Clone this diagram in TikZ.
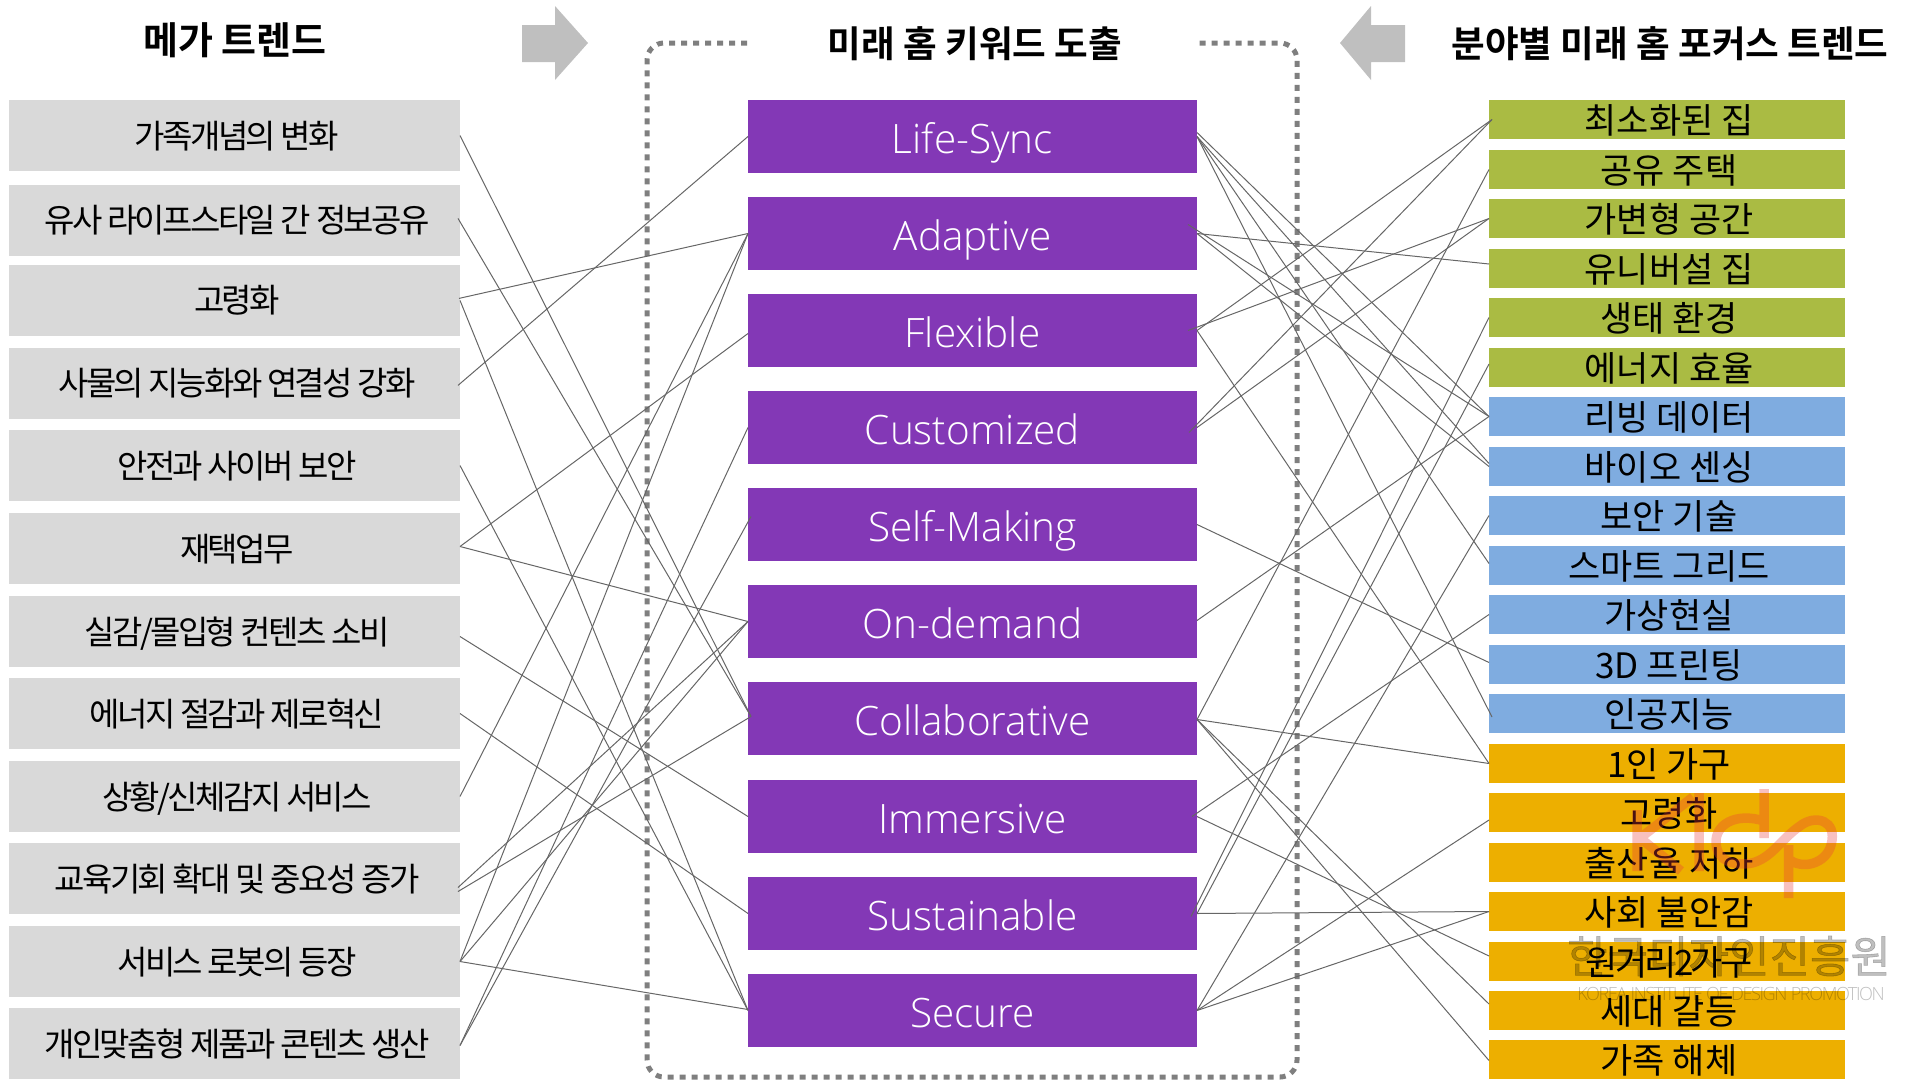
\documentclass[tikz,border=0pt]{standalone}
\usepackage{fontspec}
\setmainfont{Noto Sans CJK KR}
\newfontfamily\lfnt{Noto Sans CJK KR}[LetterSpace=-8]
\newfontfamily\rfnt{Noto Sans CJK KR}[WordSpace=2.5]
\newfontfamily\rtfnt{Noto Sans CJK KR}[LetterSpace=-8]
\newfontfamily\wfnt{Noto Sans CJK KR}[FakeBold=1.2]
\newfontfamily\tfnt{Noto Sans CJK KR}[BoldFont={* Bold}]
\newfontfamily\pfnt{Open Sans Light}
\newfontfamily\efnt{Open Sans Light}[LetterSpace=-8]
\definecolor{grayfill}{HTML}{D9D9D9}
\definecolor{purplefill}{HTML}{8338B6}
\definecolor{greenfill}{HTML}{AABB43}
\definecolor{bluefill}{HTML}{7FACE0}
\definecolor{amberfill}{HTML}{EDAF00}
\definecolor{arrowgray}{HTML}{BFBFBF}
\definecolor{framegray}{HTML}{7F7F7F}
\definecolor{linkgray}{HTML}{666666}
\definecolor{logored}{HTML}{EA3B3B}
\tikzset{
  boxbase/.style={rectangle,inner sep=0pt,outer sep=0pt,text=black},
  lbx/.style={boxbase,fill=grayfill,minimum width=451pt,minimum height=71pt,font=\lfnt\fontsize{33}{33}\selectfont,text height=29pt,text depth=4pt,execute at begin node={\hspace*{5pt}}},
  pbx/.style={boxbase,fill=purplefill,text=white,minimum width=449pt,minimum height=73pt,font=\pfnt\fontsize{40.5}{40.5}\selectfont,text height=34.5pt,text depth=0pt},
  rbx/.style={boxbase,minimum width=356pt,minimum height=39pt,font=\rfnt\fontsize{35}{35}\selectfont,text height=32.5pt,text depth=4.2pt,execute at begin node={\hspace*{4pt}}},
  gbx/.style={rbx,fill=greenfill},
  bbx/.style={rbx,fill=bluefill},
  abx/.style={rbx,fill=amberfill},
  title/.style={inner sep=0pt,font=\tfnt\bfseries\fontsize{36.6}{36.6}\selectfont,text height=33.5pt,text depth=4.4pt},
  conn/.style={draw=linkgray,line width=1pt},
  frameline/.style={draw=framegray,line width=5pt,dash pattern=on 6pt off 6pt,rounded corners=17pt},
}
\newcommand\lnk[4]{\draw[conn] ([shift={(#2)}]#1) -- ([shift={(#4)}]#3);}
\begin{document}
\begin{tikzpicture}[x=1pt,y=-1pt]
\useasboundingbox (0,0) rectangle (1908,1079);
% titles
\node[title,font=\tfnt\bfseries\fontsize{38}{38}\selectfont] (t1) at (235,40) {메가 트렌드};
\node[title] (t2) at (975,43) {미래 홈 키워드 도출};
\node[title] (t3) at (1670,43) {분야별 미래 홈 포커스 트렌드};
% block arrows
\fill[arrowgray] (522,25) -- (555,25) -- (555,6) -- (588,43) -- (555,80) -- (555,62) -- (522,62) -- cycle;
\fill[arrowgray] (1405,25) -- (1371,25) -- (1371,6) -- (1340,43) -- (1371,80) -- (1371,62) -- (1405,62) -- cycle;
% frame
\draw[frameline] (747,43) -- (647,43) -- (647,1077) -- (1297,1077) -- (1297,43) -- (1198,43);
% left column
\node[lbx] (l1) at (234.5,135.5) {가족개념의 변화};
\node[lbx] (l2) at (234.5,220.4) {유사 라이프스타일 간 정보공유};
\node[lbx] (l3) at (234.5,300.4) {고령화};
\node[lbx] (l4) at (234.5,383.4) {사물의 지능화와 연결성 강화};
\node[lbx] (l5) at (234.5,465.5) {안전과 사이버 보안};
\node[lbx] (l6) at (234.5,548.5) {재택업무};
\node[lbx] (l7) at (234.5,631.5) {실감/몰입형 컨텐츠 소비};
\node[lbx] (l8) at (234.5,713.5) {에너지 절감과 제로혁신};
\node[lbx] (l9) at (234.5,796.5) {상황/신체감지 서비스};
\node[lbx] (l10) at (234.5,878.5) {교육기회 확대 및 중요성 증가};
\node[lbx] (l11) at (234.5,961.5) {서비스 로봇의 등장};
\node[lbx] (l12) at (234.5,1043.5) {개인맞춤형 제품과 콘텐츠 생산};
% purple column
\node[pbx] (p1) at (972.5,136.5) {Life-Sync};
\node[pbx] (p2) at (972.5,233.5) {Adaptive};
\node[pbx] (p3) at (972.5,330.5) {Flexible};
\node[pbx] (p4) at (972.5,427.5) {Customized};
\node[pbx] (p5) at (972.5,524.5) {Self-Making};
\node[pbx] (p6) at (972.5,621.5) {On-demand};
\node[pbx] (p7) at (972.5,718.5) {Collaborative};
\node[pbx] (p8) at (972.5,816.5) {Immersive};
\node[pbx] (p9) at (972.5,913.5) {Sustainable};
\node[pbx] (p10) at (972.5,1010.5) {Secure};
% right column
\node[gbx] (r1) at (1667,119.5) {최소화된 집};
\node[gbx] (r2) at (1667,169.5) {공유 주택};
\node[gbx] (r3) at (1667,218.5) {가변형 공간};
\node[gbx] (r4) at (1667,268.5) {유니버설 집};
\node[gbx] (r5) at (1667,317.5) {생태 환경};
\node[gbx] (r6) at (1667,367.5) {에너지 효율};
\node[bbx] (r7) at (1667,416.5) {리빙 데이터};
\node[bbx] (r8) at (1667,466.5) {바이오 센싱};
\node[bbx] (r9) at (1667,515.5) {보안 기술};
\node[bbx] (r10) at (1667,565.5) {스마트 그리드};
\node[bbx] (r11) at (1667,614.5) {가상현실};
\node[bbx] (r12) at (1667,664.5) {3D 프린팅};
\node[bbx] (r13) at (1667,713.5) {인공지능};
\node[abx] (r14) at (1667,763.5) {1인 가구};
\node[abx] (r15) at (1667,812.5) {고령화};
\node[abx] (r16) at (1667,862.5) {출산율 저하};
\node[abx] (r17) at (1667,911.5) {사회 불안감};
\node[abx,font=\rtfnt\fontsize{35}{35}\selectfont] (r18) at (1667,961.5) {원거리2가구};
\node[abx] (r19) at (1667,1010.5) {세대 갈등};
\node[abx] (r20) at (1667,1059.5) {가족 해체};
% connectors: left to purple
\lnk{l1.east}{0,0}{p7.west}{3,-2}
\lnk{l2.east}{-2,-2}{p7.west}{3,-2}
\lnk{l3.east}{-1,-2}{p2.west}{0,0}
\lnk{l3.east}{0,0}{p10.west}{0,0}
\lnk{l4.east}{-2,2}{p1.west}{0,0}
\lnk{l5.east}{0,0}{p10.west}{0,0}
\lnk{l6.east}{0,-2}{p3.west}{0,3}
\lnk{l6.east}{0,-2}{p6.west}{0,0}
\lnk{l7.east}{0,5}{p8.west}{0,0}
\lnk{l8.east}{0,0}{p9.west}{0,0}
\lnk{l9.east}{0,0}{p2.west}{0,0}
\lnk{l10.east}{-2,9}{p6.west}{0,0}
\lnk{l10.east}{-2,13}{p7.west}{3,-2}
\lnk{l11.east}{0,0}{p2.west}{0,0}
\lnk{l11.east}{0,0}{p6.west}{0,0}
\lnk{l11.east}{0,0}{p10.west}{0,-1}
\lnk{l12.east}{0,2}{p4.west}{0,0}
\lnk{l12.east}{0,2}{p5.west}{3,-8}
% connectors: purple to right
\lnk{p1.east}{0,-4}{r7.west}{0,0}
\lnk{p1.east}{0,0}{r8.west}{0,-3}
\lnk{p1.east}{0,0}{r10.west}{0,-2}
\lnk{p1.east}{0,0}{r13.west}{3,3.5}
\lnk{p2.east}{0,0}{r4.west}{0,-4.5}
\lnk{p2.east}{-9,-9}{r7.west}{0,0}
\lnk{p2.east}{0,0}{r8.west}{0,0}
\lnk{p3.east}{-9,0}{r3.west}{0,0}
\lnk{p3.east}{0,0}{r1.west}{3,0}
\lnk{p3.east}{0,0}{r14.west}{0,0}
\lnk{p4.east}{-8,5}{r1.west}{3,0}
\lnk{p4.east}{0,0}{r3.west}{0,0}
\lnk{p5.east}{0,0}{r12.west}{0,-2}
\lnk{p6.east}{0,-1}{r7.west}{0,0}
\lnk{p7.east}{0,1}{r2.west}{0,0}
\lnk{p7.east}{0,1}{r14.west}{0,0}
\lnk{p7.east}{0,1}{r19.west}{0,-6.5}
\lnk{p7.east}{0,1}{r20.west}{0,1}
\lnk{p8.east}{-5,0}{r11.west}{0,0}
\lnk{p8.east}{0,0}{r18.west}{0,-5.5}
\lnk{p9.east}{0,0}{r17.west}{0,0}
\lnk{p9.east}{-6,3}{r5.west}{0,0}
\lnk{p9.east}{0,0}{r6.west}{0,-3.5}
\lnk{p10.east}{0,0}{r9.west}{0,0}
\lnk{p10.east}{0,0}{r15.west}{0,7.5}
\lnk{p10.east}{0,0}{r17.west}{0,0}
% watermark
\draw[logored,opacity=.32,line width=9.5pt]
  (1637,810) -- (1637,871)
  (1693,797) -- (1640,838) -- (1681,871)
  (1699,793) -- (1699,871)
  (1764,789) -- (1764,838)
  (1764,821) .. controls (1735,812) and (1715,825) .. (1716,843)
     .. controls (1717,862) and (1735,866) .. (1752,863)
     .. controls (1772,858) and (1782,838) .. (1800,826)
     .. controls (1815,814) and (1838,820) .. (1831,845)
     .. controls (1826,864) and (1802,870) .. (1788.5,859)
  (1788.5,845) -- (1788.5,898);
\node[inner sep=0pt,text=black,opacity=.25,font=\wfnt\fontsize{44}{44}\selectfont] (w1) at (1729,956) {한국디자인진흥원};
\node[inner sep=0pt,text=black,opacity=.25,font=\efnt\fontsize{18.2}{18.2}\selectfont] (w2) at (1731,994) {KOREA INSTITUTE OF DESIGN PROMOTION};
\end{tikzpicture}
\end{document}
